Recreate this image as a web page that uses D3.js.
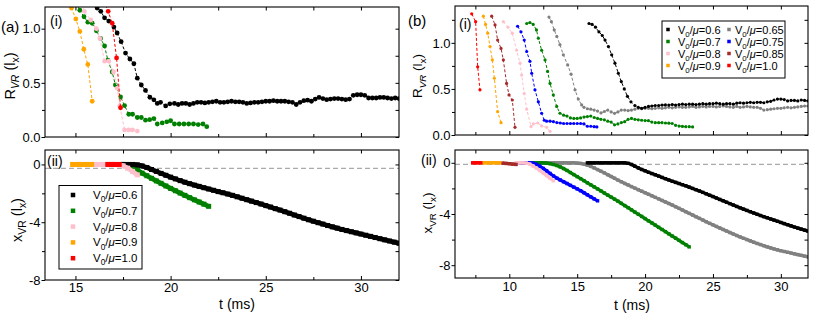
<!DOCTYPE html>
<html><head><meta charset="utf-8">
<script src="https://cdn.jsdelivr.net/npm/d3@7"></script>
<style>body{margin:0;background:#fff}</style>
</head><body><svg id="c" width="814" height="320" xmlns="http://www.w3.org/2000/svg"></svg>
<script>
function grid(t0, dt, n){ return d3.range(n).map(i => +(t0 + i*dt).toFixed(3)); }

// ---------------- DATA ----------------
// legend labels (V0/mu ratios)
const ratiosA = ['0.6','0.7','0.8','0.9','1.0'];
const ratiosB = ['0.6','0.65','0.7','0.75','0.8','0.85','0.9','1.0'];

// Panel (a)(i): R_VR vs t
const a1_black_t = [15.9,16.14,16.33,16.53,16.75,17.02,17.19,17.4,17.63,17.86,18.07,18.25,18.46,18.68,18.91,19.12,19.3,19.47,19.74,19.96].concat(grid(20.2,0.2,60));
const a1_black_v = [1.25,1.19,1.16,1.10,1.07,1.015,0.96,0.88,0.775,0.72,0.676,0.543,0.48,0.43,0.367,0.343,0.31,0.32,0.287,0.306,
 0.31,0.30,0.31,0.31,0.30,0.31,0.32,0.32,0.315,0.32, 0.325,0.33,0.32,0.32,0.325,0.33,0.325,0.325,0.32,0.31,
 0.315,0.32,0.32,0.325,0.33,0.33,0.335,0.33,0.33,0.33, 0.325,0.32,0.30,0.32,0.335,0.34,0.33,0.35,0.365,0.355,
 0.345,0.35,0.355,0.355,0.35,0.345,0.35,0.385,0.39,0.39, 0.385,0.36,0.36,0.36,0.365,0.365,0.36,0.355,0.36,0.355];
const a1_green_t = [15.0,15.23,15.45,15.65,15.88,16.1,16.32,16.53,16.7,16.93,17.1,17.37,17.58,17.8,18.0,18.25,18.46,18.68,18.9,19.12,19.3,19.56,19.8,20.0,20.2,20.45,20.7,20.95,21.2,21.45,21.7,21.9];
const a1_green_v = [1.26,1.17,1.11,1.06,1.05,0.98,0.91,0.84,0.71,0.6,0.48,0.37,0.29,0.21,0.21,0.18,0.18,0.155,0.16,0.17,0.12,0.13,0.14,0.15,0.12,0.12,0.12,0.12,0.12,0.115,0.12,0.095];
const a1_pink_t = [15.2,15.47,15.8,16.1,16.28,16.53,16.75,17.0,17.2,17.33,17.58,17.8,18.0,18.25];
const a1_pink_v = [1.28,1.16,1.08,1.0,0.91,0.70,0.70,0.6,0.45,0.287,0.065,0.065,0.065,0.055];
const a1_orange_t = [14.6,14.79,15.02,15.23,15.44,15.65,15.88];
const a1_orange_v = [1.28,1.19,1.09,0.975,0.81,0.67,0.33];
const a1_red_t = [16.5,16.72,16.93,17.16,17.37];
const a1_red_v = [1.26,1.16,1.05,0.73,0.27];

// Panel (a)(ii): x_VR vs t (sampled every dt)
const a2_black = {t0:17.5, dt:0.25, v:[0,0,0,-0.03,-0.1,-0.21,-0.35,-0.48,-0.62,-0.75,-0.88,-1.0,-1.12,-1.23,-1.33,-1.43,-1.52,-1.61,-1.7,-1.79,-1.88,-1.96,-2.05,-2.14,-2.24,-2.34,-2.44,-2.54,-2.64,-2.74,-2.85,-2.95,-3.06,-3.16,-3.27,-3.38,-3.5,-3.61,-3.72,-3.83,-3.93,-4.03,-4.13,-4.23,-4.32,-4.41,-4.5,-4.58,-4.66,-4.74,-4.82,-4.9,-4.98,-5.06,-5.14,-5.22,-5.3,-5.38,-5.46]};
const a2_green = {t0:17.5, dt:0.25, v:[0,-0.03,-0.15,-0.38,-0.6,-0.78,-0.96,-1.14,-1.31,-1.49,-1.66,-1.82,-1.98,-2.14,-2.3,-2.45,-2.6,-2.75,-2.9]};
const a2_pink = {t0:16.0, dt:0.25, v:[0,0,0,0,0,-0.02,-0.09,-0.26,-0.48,-0.72]};
const a2_orange = {t0:14.85, dt:0.25, v:[0,0,0,0,0]};
const a2_red = {t0:16.7, dt:0.2, v:[0,0,0,0]};

// Panel (b)(i): R_VR vs t
const b1_red_t = [7.23,7.52,7.67,7.84];
const b1_red_v = [1.315,1.23,0.74,0.49];
const b1_orange_t = [8.09,8.25,8.41,8.58,8.75,8.9,9.14,9.39];
const b1_orange_v = [1.29,1.2,1.105,0.96,0.815,0.616,0.253,0.134];
const b1_brown_t = [8.7,8.95,9.14,9.39,9.56,9.8,9.98,10.22,10.42];
const b1_brown_v = [1.29,1.195,1.03,0.94,0.815,0.56,0.435,0.38,0.083];
const b1_pink_t = [9.56,9.9,10.22,10.54,10.79,10.91,11.1,11.28,11.6,11.77,12.1,12.38,12.75,13.0];
const b1_pink_v = [1.23,1.17,1.105,0.92,0.78,0.65,0.45,0.28,0.09,0.12,0.13,0.098,0.083,0.04];
const b1_blue_t = [10.61,10.86,11.1,11.28,11.52,11.65,11.89,12.14,12.38,12.58,12.75,13.0,13.25,13.5,13.75,14.0,14.25,14.5,14.75,15.0,15.25,15.5,15.75,16.0,16.25,16.45];
const b1_blue_v = [1.18,1.12,1.03,0.906,0.80,0.67,0.49,0.36,0.236,0.16,0.15,0.15,0.145,0.135,0.13,0.125,0.125,0.125,0.125,0.125,0.125,0.12,0.095,0.095,0.09,0.088];
const b1_green_t = [11.28,11.52,11.76,12.0,12.14,12.38,12.63,12.82,13.0,13.24,13.49,13.73].concat(grid(14.0,0.25,39));
const b1_green_v = [1.21,1.22,1.2,1.14,1.05,0.92,0.815,0.69,0.56,0.435,0.31,0.236,
 0.215,0.205,0.185,0.18,0.18,0.185,0.195,0.2,0.205,0.19, 0.18,0.17,0.165,0.15,0.14,0.11,0.12,0.135,0.145,0.17,
 0.18,0.17,0.165,0.16,0.157,0.155,0.14,0.134,0.134,0.134, 0.13,0.128,0.125,0.105,0.097,0.093,0.09,0.09,0.088];
const b1_gray_t = [12.92,13.1,13.31,13.5,13.73,13.98,14.3,14.55,14.84,15.08,15.33].concat(grid(15.5,0.25,67));
const b1_gray_v = [1.28,1.23,1.14,1.07,0.98,0.87,0.76,0.66,0.49,0.39,0.326,
 0.3,0.285,0.28,0.27,0.26,0.24,0.255,0.27,0.25,0.235, 0.25,0.27,0.27,0.265,0.27,0.28,0.29,0.285,0.29,0.29,
 0.285,0.29,0.295,0.29,0.295,0.3,0.295,0.3,0.305,0.3, 0.3,0.305,0.31,0.3,0.305,0.31,0.305,0.31,0.31,0.305,
 0.31,0.315,0.31,0.305,0.3,0.31,0.3,0.305,0.31,0.305, 0.3,0.3,0.29,0.27,0.275,0.28,0.285,0.29,0.29,0.295,
 0.3,0.295,0.3,0.305,0.31,0.315,0.315];
const b1_black_t = [15.87,16.1,16.35,16.6,16.85,17.05,17.3,17.54,17.78,18.03,18.25,18.47,18.7,18.96,19.25,19.5,19.75].concat(grid(20.0,0.25,49));
const b1_black_v = [1.21,1.2,1.17,1.12,1.08,1.03,0.96,0.87,0.78,0.67,0.58,0.50,0.42,0.36,0.32,0.30,0.29,
 0.3,0.31,0.315,0.32,0.32,0.325,0.326,0.325,0.33,0.325, 0.33,0.335,0.33,0.335,0.335,0.33,0.335,0.34,0.335,0.34,
 0.34,0.345,0.34,0.335,0.34,0.34,0.335,0.345,0.35,0.345, 0.35,0.355,0.35,0.355,0.355,0.35,0.36,0.365,0.38,0.39,
 0.39,0.385,0.37,0.375,0.375,0.37,0.38,0.375,0.37];

// Panel (b)(ii): x_VR vs t (sampled every dt)
const b2_red = {t0:7.3, dt:0.2, v:[0,0,0,0]};
const b2_orange = {t0:8.05, dt:0.25, v:[0,0,0,0,0,0]};
const b2_brown = {t0:9.5, dt:0.25, v:[-0.03,-0.05,-0.07,-0.1,-0.13]};
const b2_pink = {t0:10.5, dt:0.25, v:[0,0,0,-0.02,-0.1,-0.25,-0.42,-0.6,-0.8,-1.0,-1.2,-1.4]};
const b2_blue = {t0:10.75, dt:0.25, v:[0,0,0,0,-0.03,-0.12,-0.27,-0.44,-0.63,-0.83,-1.03,-1.2,-1.34,-1.48,-1.62,-1.76,-1.9,-2.04,-2.18,-2.34,-2.5,-2.66,-2.82,-2.97]};
const b2_green = {t0:11.0, dt:0.25, v:[0,0,0,0,0,0,-0.01,-0.03,-0.07,-0.13,-0.21,-0.32,-0.45,-0.6,-0.76,-0.92,-1.08,-1.24,
 -1.4,-1.56,-1.72,-1.88,-2.04,-2.2,-2.36,-2.52,-2.68,-2.84,-3.0,-3.17,-3.34,-3.51,-3.68,-3.85,-4.02,-4.19,-4.36,-4.53,
 -4.7,-4.87,-5.04,-5.21,-5.38,-5.55,-5.72,-5.89,-6.06,-6.23,-6.4,-6.57]};
const b2_gray = {t0:11.5, dt:0.25, v:[0,0,0,0,0,0,0,0,0,0,0,0,0,0,
 -0.02,-0.05,-0.1,-0.18,-0.28,-0.4,-0.53,-0.66,-0.79,-0.93, -1.07,-1.21,-1.35,-1.48,-1.61,-1.73,-1.86,-1.98,-2.1,-2.22,
 -2.34,-2.46,-2.58,-2.7,-2.82,-2.94,-3.06,-3.18,-3.3,-3.43, -3.56,-3.69,-3.82,-3.95,-4.08,-4.21,-4.34,-4.47,-4.6,-4.73,
 -4.85,-4.97,-5.09,-5.21,-5.33,-5.45,-5.57,-5.68,-5.79,-5.9, -6.0,-6.1,-6.2,-6.3,-6.39,-6.48,-6.57,-6.65,-6.73,-6.8,
 -6.87,-6.93,-6.99,-7.05,-7.11,-7.17,-7.23,-7.29,-7.35]};
const b2_black = {t0:15.75, dt:0.25, v:[0,0,0,0,0,0,0,0,0,0,0,0,-0.04,-0.13,-0.27,-0.4,
 -0.52,-0.63,-0.74,-0.84,-0.94,-1.04,-1.14,-1.24,-1.34,-1.44, -1.53,-1.62,-1.71,-1.8,-1.9,-2.0,-2.1,-2.2,-2.31,-2.42,
 -2.53,-2.64,-2.75,-2.86,-2.97,-3.08,-3.19,-3.3,-3.41,-3.52, -3.62,-3.72,-3.82,-3.92,-4.02,-4.12,-4.21,-4.3,-4.39,-4.48,
 -4.57,-4.66,-4.75,-4.84,-4.93,-5.02,-5.1,-5.18,-5.26,-5.34]};

// reference (dashed) levels in lower panels
const refA = -0.27, refB = -0.13;

// ticks
const xMajA = [15,20,25,30], xMinA = [17.5,22.5,27.5];
const xMajB = [10,15,20,25,30], xMinB = [7.5,12.5,17.5,22.5,27.5];
const yMajR = [0,0.5,1.0], yMinA1 = [0.25,0.75], yMinB1 = [0.25,0.75,1.25];
const yMajA2 = [-8,-4,0], yMinA2 = [-6,-2];
const yMajB2 = [-8,-4,0], yMinB2 = [-6,-2];

// ---------------- DRAWING ----------------
const COL = {'0.6':'#000000','0.65':'#808080','0.7':'#008000','0.75':'#0000ff','0.8':'#ffc0cb','0.85':'#a52a2a','0.9':'#ffa500','1.0':'#ff0000'};
const FONT = '"Liberation Sans", Arial, Helvetica, sans-serif';
const svg = d3.select('#c');
const defs = svg.append('defs');

function pairs(t, v){ return t.map((tt,i)=>({t:tt, v:v[i]})); }
function sampled(s){ return s.v.map((vv,i)=>({t:s.t0+i*s.dt, v:vv})); }

function panel(p){
  const x = d3.scaleLinear().domain(p.xd).range([p.l, p.r]);
  const y = d3.scaleLinear().domain(p.yd).range([p.b, p.t]);
  const cid = 'clip-'+p.id;
  defs.append('clipPath').attr('id',cid).append('rect')
    .attr('x',p.l).attr('y',p.t).attr('width',p.r-p.l).attr('height',p.b-p.t);
  const g = svg.append('g');
  const data = g.append('g').attr('clip-path',`url(#${cid})`);
  function styl(a, fs){
    a.select('.domain').remove();
    a.attr('font-family',FONT).attr('font-size',fs);
    a.selectAll('line').attr('stroke','#000').attr('stroke-width',1);
    a.selectAll('text').attr('fill','#000');
  }
  const fs = p.fs;
  let a = g.append('g').attr('transform',`translate(0,${p.b})`)
    .call(d3.axisBottom(x).tickValues(p.xMaj).tickSizeInner(-4).tickSizeOuter(0).tickPadding(p.xPad)
      .tickFormat(p.xLabels ? d=>String(d) : ''));
  styl(a, fs);
  a = g.append('g').attr('transform',`translate(0,${p.b})`)
    .call(d3.axisBottom(x).tickValues(p.xMin).tickSizeInner(-3).tickSizeOuter(0).tickFormat(''));
  styl(a, fs);
  a = g.append('g').attr('transform',`translate(0,${p.t})`)
    .call(d3.axisTop(x).tickValues(p.xMaj.concat(p.xMin)).tickSizeInner(-3.5).tickSizeOuter(0).tickFormat(''));
  styl(a, fs);
  a = g.append('g').attr('transform',`translate(${p.l},0)`)
    .call(d3.axisLeft(y).tickValues(p.yMaj).tickSizeInner(3.5).tickSizeOuter(0).tickPadding(1).tickFormat(p.yFmt));
  styl(a, fs);
  a = g.append('g').attr('transform',`translate(${p.l},0)`)
    .call(d3.axisLeft(y).tickValues(p.yMin).tickSizeInner(3).tickSizeOuter(0).tickFormat(''));
  styl(a, fs);
  a = g.append('g').attr('transform',`translate(${p.r},0)`)
    .call(d3.axisRight(y).tickValues(p.yMaj.concat(p.yMin)).tickSizeInner(-3.5).tickSizeOuter(0).tickFormat(''));
  styl(a, fs);
  g.append('rect').attr('x',p.l).attr('y',p.t).attr('width',p.r-p.l).attr('height',p.b-p.t)
    .attr('fill','none').attr('stroke','#000').attr('stroke-width',1.1);
  return {x, y, g, data};
}

function dotSeries(P, pts, color, r){
  const line = d3.line().x(d=>P.x(d.t)).y(d=>P.y(d.v));
  P.data.append('path').attr('d', line(pts)).attr('fill','none').attr('stroke',color)
    .attr('stroke-width',1).attr('stroke-dasharray','3,2');
  P.data.selectAll(null).data(pts).enter().append('circle')
    .attr('cx',d=>P.x(d.t)).attr('cy',d=>P.y(d.v)).attr('r',r).attr('fill',color);
}
function squareSeries(P, pts, color, s){
  const line = d3.line().x(d=>P.x(d.t)).y(d=>P.y(d.v));
  P.data.append('path').attr('d', line(pts)).attr('fill','none').attr('stroke',color)
    .attr('stroke-width',s*0.95).attr('stroke-linejoin','round');
  P.data.selectAll(null).data(pts).enter().append('rect')
    .attr('x',d=>P.x(d.t)-s/2).attr('y',d=>P.y(d.v)-s/2).attr('width',s).attr('height',s).attr('fill',color);
}
function refLine(P, v){
  const [x0,x1] = P.x.range();
  P.data.append('line').attr('x1',x0).attr('x2',x1).attr('y1',P.y(v)).attr('y2',P.y(v))
    .attr('stroke','#aaaaaa').attr('stroke-width',1.2).attr('stroke-dasharray','5,3');
}

function rich(sel, parts, fs){
  let down = 0;
  parts.forEach(q=>{
    const ts = sel.append('tspan').text(q.t);
    if(q.it) ts.attr('font-style','italic');
    if(q.sub){
      ts.attr('font-size', fs*0.72);
      if(!down){ ts.attr('dy', fs*0.28); down = fs*0.28; }
    } else if(down){ ts.attr('dy', -down); down = 0; }
  });
  return sel;
}
function label(x, y, parts, fs, opts={}){
  const t = svg.append('text').attr('x',x).attr('y',y).attr('font-family',FONT).attr('font-size',fs)
    .attr('fill','#000').attr('text-anchor',opts.anchor||'start');
  if(opts.rot) t.attr('transform',`rotate(-90,${x},${y})`);
  return rich(t, parts, fs);
}
const RVR = [{t:'R'},{t:'VR',sub:true,it:true},{t:' (l'},{t:'x',sub:true},{t:')'}];
const XVR = [{t:'x'},{t:'VR',sub:true},{t:' (l'},{t:'x',sub:true},{t:')'}];
const legParts = r => [{t:'V'},{t:'0',sub:true},{t:'/'},{t:'μ',it:true},{t:'='+r}];

// ---- (a)(i)
const A1 = panel({id:'a1', l:45, r:399, t:7, b:137, xd:[13.4,32], yd:[0,1.2], xMaj:xMajA, xMin:xMinA,
  yMaj:yMajR, yMin:yMinA1, yFmt:d3.format('.1f'), xLabels:false, xPad:3, fs:13});
dotSeries(A1, pairs(a1_black_t,a1_black_v), COL['0.6'], 2.4);
dotSeries(A1, pairs(a1_green_t,a1_green_v), COL['0.7'], 2.4);
dotSeries(A1, pairs(a1_pink_t,a1_pink_v), COL['0.8'], 2.4);
dotSeries(A1, pairs(a1_orange_t,a1_orange_v), COL['0.9'], 2.4);
dotSeries(A1, pairs(a1_red_t,a1_red_v), COL['1.0'], 2.4);

// ---- (a)(ii)
const A2 = panel({id:'a2', l:45, r:399, t:150, b:280, xd:[13.4,32], yd:[-8,1], xMaj:xMajA, xMin:xMinA,
  yMaj:yMajA2, yMin:yMinA2, yFmt:d=>String(d), xLabels:true, xPad:3, fs:13});
refLine(A2, refA);
squareSeries(A2, sampled(a2_green), COL['0.7'], 5);
squareSeries(A2, sampled(a2_black), COL['0.6'], 5);
squareSeries(A2, sampled(a2_pink), COL['0.8'], 5);
squareSeries(A2, sampled(a2_orange), COL['0.9'], 5);
squareSeries(A2, sampled(a2_red), COL['1.0'], 5);

// ---- (b)(i)
const B1 = panel({id:'b1', l:455, r:808, t:6, b:135, xd:[6,32], yd:[0,1.4], xMaj:xMajB, xMin:xMinB,
  yMaj:yMajR, yMin:yMinB1, yFmt:d3.format('.1f'), xLabels:false, xPad:3, fs:13});
dotSeries(B1, pairs(b1_gray_t,b1_gray_v), COL['0.65'], 1.6);
dotSeries(B1, pairs(b1_black_t,b1_black_v), COL['0.6'], 1.6);
dotSeries(B1, pairs(b1_green_t,b1_green_v), COL['0.7'], 1.6);
dotSeries(B1, pairs(b1_blue_t,b1_blue_v), COL['0.75'], 1.6);
dotSeries(B1, pairs(b1_pink_t,b1_pink_v), COL['0.8'], 1.6);
dotSeries(B1, pairs(b1_brown_t,b1_brown_v), COL['0.85'], 1.6);
dotSeries(B1, pairs(b1_orange_t,b1_orange_v), COL['0.9'], 1.6);
dotSeries(B1, pairs(b1_red_t,b1_red_v), COL['1.0'], 1.6);

// ---- (b)(ii)
const B2 = panel({id:'b2', l:455, r:808, t:150, b:278, xd:[6,32], yd:[-9,1], xMaj:xMajB, xMin:xMinB,
  yMaj:yMajB2, yMin:yMinB2, yFmt:d=>String(d), xLabels:true, xPad:4, fs:13});
refLine(B2, refB);
squareSeries(B2, sampled(b2_gray), COL['0.65'], 3.4);
squareSeries(B2, sampled(b2_black), COL['0.6'], 3.4);
squareSeries(B2, sampled(b2_green), COL['0.7'], 3.4);
squareSeries(B2, sampled(b2_blue), COL['0.75'], 3.4);
squareSeries(B2, sampled(b2_pink), COL['0.8'], 3.4);
squareSeries(B2, sampled(b2_brown), COL['0.85'], 3.4);
squareSeries(B2, sampled(b2_orange), COL['0.9'], 3.4);
squareSeries(B2, sampled(b2_red), COL['1.0'], 3.4);

// ---- texts
label(1, 32, [{t:'(a)'}], 15);
label(408, 26, [{t:'(b)'}], 15);
label(50, 26, [{t:'(i)'}], 14);
label(459, 29, [{t:'(i)'}], 14);
label(47, 166, [{t:'(ii)'}], 14);
label(421, 165, [{t:'(ii)'}], 14);
label(15, 76, RVR, 14.5, {rot:true, anchor:'middle'});
label(22, 220, XVR, 14.5, {rot:true, anchor:'middle'});
label(422, 76, RVR, 13.5, {rot:true, anchor:'middle'});
label(432, 213, XVR, 13.5, {rot:true, anchor:'middle'});
label(237, 309, [{t:'t (ms)'}], 14, {anchor:'middle'});
label(632, 310, [{t:'t (ms)'}], 14, {anchor:'middle'});

// ---- legend (a)
svg.append('rect').attr('x',59).attr('y',185.5).attr('width',83).attr('height',83.5)
  .attr('fill','#fff').attr('stroke','#000').attr('stroke-width',1);
ratiosA.forEach((r,i)=>{
  const yy = 195 + i*15.8;
  svg.append('rect').attr('x',73-2.25).attr('y',yy-2.25).attr('width',4.5).attr('height',4.5).attr('fill',COL[r]);
  label(93, yy+4, legParts(r), 11.5);
});
// ---- legend (b)
svg.append('rect').attr('x',662).attr('y',21).attr('width',123).attr('height',57)
  .attr('fill','#fff').attr('stroke','#000').attr('stroke-width',1);
const colB1 = ['0.6','0.7','0.8','0.9'], colB2 = ['0.65','0.75','0.85','1.0'];
colB1.forEach((r,i)=>{
  const yy = 29.5 + i*12;
  svg.append('rect').attr('x',668-1.75).attr('y',yy-1.75).attr('width',3.5).attr('height',3.5).attr('fill',COL[r]);
  label(678, yy+4, legParts(r), 11);
});
colB2.forEach((r,i)=>{
  const yy = 29.5 + i*12;
  svg.append('rect').attr('x',729-1.75).attr('y',yy-1.75).attr('width',3.5).attr('height',3.5).attr('fill',COL[r]);
  label(735, yy+4, legParts(r), 11);
});
</script></body></html>
